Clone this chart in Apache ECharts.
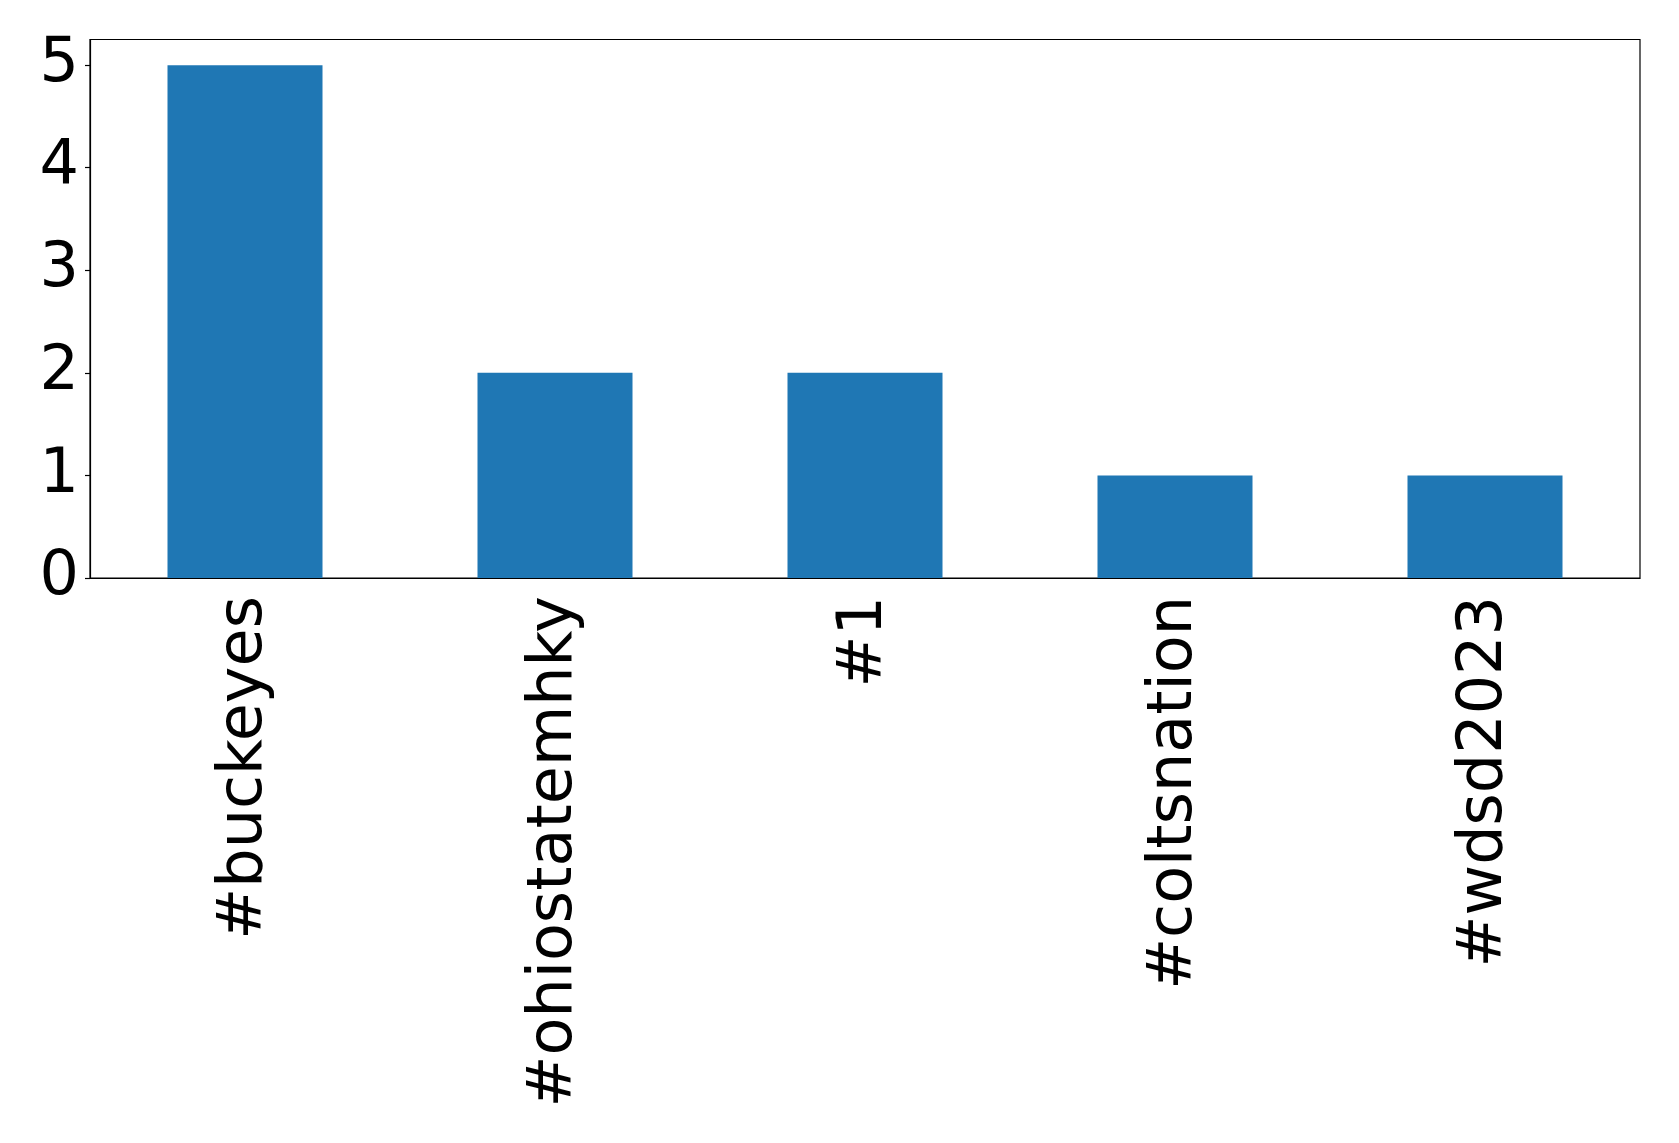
<!DOCTYPE html>
<html>
<head>
<meta charset="utf-8">
<script src="https://cdn.jsdelivr.net/npm/echarts@6/dist/echarts.min.js"></script>
<style>html,body{margin:0;padding:0;background:#fff}#c{width:1679px;height:1143px}</style>
</head>
<body>
<div id="c"></div>
<script>
const categories = ['#buckeyes', '#ohiostatemhky', '#1', '#coltsnation', '#wdsd2023'];
const counts = [5, 2, 2, 1, 1];
const yTicks = [0, 1, 2, 3, 4, 5];

const chart = echarts.init(document.getElementById('c'), null, {renderer: 'canvas'});
chart.setOption({
  animation: false,
  backgroundColor: '#ffffff',
  textStyle: {fontFamily: 'DejaVu Sans'},
  grid: {left: 90, top: 39.5, width: 1550, height: 538.5, show: true, borderColor: '#000', borderWidth: 1.2, containLabel: false},
  xAxis: {
    type: 'category',
    data: categories,
    boundaryGap: true,
    axisLine: {lineStyle: {color: '#000', width: 1.2}},
    axisTick: {alignWithLabel: true, length: 5, lineStyle: {color: '#000', width: 1.2}},
    axisLabel: {rotate: 90, fontSize: 62, color: '#000', margin: 18, fontFamily: 'DejaVu Sans', interval: 0}
  },
  yAxis: {
    type: 'value',
    min: 0, max: 5.25, interval: 1,
    splitLine: {show: false},
    axisLine: {show: true, lineStyle: {color: '#000', width: 1.2}},
    axisTick: {show: true, length: 5, customValues: yTicks, lineStyle: {color: '#000', width: 1.2}},
    axisLabel: {fontSize: 62, color: '#000', margin: 11, customValues: yTicks, fontFamily: 'DejaVu Sans'}
  },
  series: [{
    type: 'bar',
    data: counts,
    barWidth: '50%',
    itemStyle: {color: '#1f77b4'}
  }]
});
</script>
</body>
</html>
